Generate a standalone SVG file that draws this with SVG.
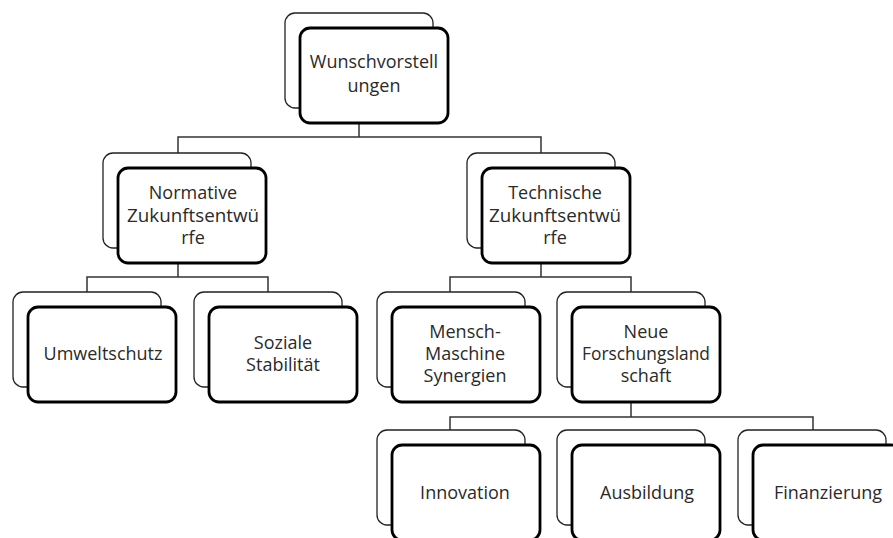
<svg xmlns="http://www.w3.org/2000/svg" width="893" height="538" viewBox="0 0 893 538">
<style>
.back{fill:#fff;stroke:#222;stroke-width:1.3}
.front{fill:#fff;stroke:#000;stroke-width:2.8}
.conn{fill:none;stroke:#333;stroke-width:1.5}
text{font-family:"Open Sans",Lato,sans-serif;font-size:18px;fill:#2a2a2a;text-anchor:middle}
</style>
<rect width="893" height="538" fill="#fff"/>
<g id="connectors">
<path class="conn" d="M359,123V137M178,153V137H541V153"/>
<path class="conn" d="M178,263V277M87,292V277H268V292"/>
<path class="conn" d="M541,263V277M450,292V277H631V292"/>
<path class="conn" d="M631,402V417M450,430V417H813V430"/>
</g>
<g id="n-wunsch">
<rect class="back" x="285" y="13" width="148" height="95" rx="10"/>
<rect class="front" x="300" y="28" width="148" height="95" rx="10"/>
<text x="374" y="68">Wunschvorstell</text>
<text x="374" y="92">ungen</text>
</g>
<g id="n-normativ">
<rect class="back" x="103" y="153" width="148" height="95" rx="10"/>
<rect class="front" x="118" y="168" width="148" height="95" rx="10"/>
<text x="193" y="199">Normative</text>
<text x="193" y="222" textLength="132" lengthAdjust="spacingAndGlyphs">Zukunftsentwü</text>
<text x="193" y="244">rfe</text>
</g>
<g id="n-technisch">
<rect class="back" x="467" y="153" width="148" height="95" rx="10"/>
<rect class="front" x="482" y="168" width="148" height="95" rx="10"/>
<text x="555" y="199">Technische</text>
<text x="555" y="222" textLength="132" lengthAdjust="spacingAndGlyphs">Zukunftsentwü</text>
<text x="555" y="244">rfe</text>
</g>
<g id="n-umwelt">
<rect class="back" x="13" y="292" width="148" height="95" rx="10"/>
<rect class="front" x="28" y="307" width="148" height="95" rx="10"/>
<text x="103" y="360">Umweltschutz</text>
</g>
<g id="n-sozial">
<rect class="back" x="194" y="292" width="148" height="95" rx="10"/>
<rect class="front" x="209" y="307" width="148" height="95" rx="10"/>
<text x="283" y="349">Soziale</text>
<text x="283" y="371">Stabilität</text>
</g>
<g id="n-mensch">
<rect class="back" x="377" y="292" width="148" height="95" rx="10"/>
<rect class="front" x="392" y="307" width="148" height="95" rx="10"/>
<text x="465" y="338">Mensch-</text>
<text x="465" y="360">Maschine</text>
<text x="465" y="382">Synergien</text>
</g>
<g id="n-neue">
<rect class="back" x="557" y="292" width="148" height="95" rx="10"/>
<rect class="front" x="572" y="307" width="148" height="95" rx="10"/>
<text x="646" y="338">Neue</text>
<text x="646" y="360" textLength="128" lengthAdjust="spacingAndGlyphs">Forschungsland</text>
<text x="646" y="382">schaft</text>
</g>
<g id="n-innovation">
<rect class="back" x="377" y="430" width="148" height="95" rx="10"/>
<rect class="front" x="392" y="445" width="148" height="95" rx="10"/>
<text x="465" y="499">Innovation</text>
</g>
<g id="n-ausbildung">
<rect class="back" x="557" y="430" width="148" height="95" rx="10"/>
<rect class="front" x="572" y="445" width="148" height="95" rx="10"/>
<text x="647" y="499">Ausbildung</text>
</g>
<g id="n-finanzierung">
<rect class="back" x="738" y="430" width="148" height="95" rx="10"/>
<rect class="front" x="753" y="445" width="148" height="95" rx="10"/>
<text x="828" y="499">Finanzierung</text>
</g>
</svg>
